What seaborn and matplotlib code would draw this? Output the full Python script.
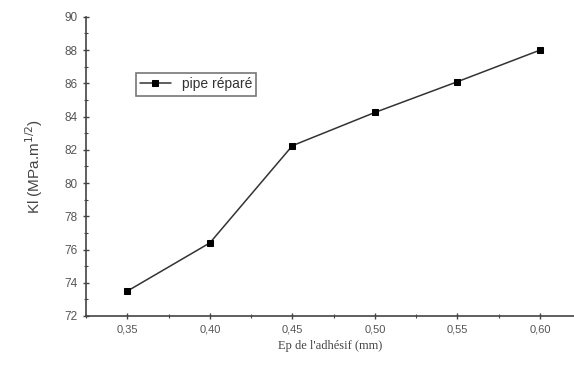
import matplotlib
matplotlib.use("Agg")
import matplotlib.pyplot as plt
import seaborn as sns
import pandas as pd
from matplotlib.ticker import MultipleLocator, FuncFormatter

# épaisseur de l'adhésif (mm) et facteur d'intensité de contrainte KI
ep = [0.35, 0.40, 0.45, 0.50, 0.55, 0.60]
ki = [73.5, 76.4, 82.25, 84.25, 86.1, 88.0]
serie = ["pipe réparé"] * len(ep)

df = pd.DataFrame({"ep": ep, "ki": ki, "serie": serie})

sns.set_style("ticks")
plt.rcParams["font.family"] = ["Liberation Sans", "DejaVu Sans"]

fig = plt.figure(figsize=(5.74, 3.67), dpi=100)
ax = fig.add_axes([0.150, 0.139, 0.850, 0.815])

sns.lineplot(data=df, x="ep", y="ki", hue="serie", palette=["#333333"],
             marker="s", markersize=4, markerfacecolor="black",
             markeredgecolor="black", linewidth=1.1, ax=ax)

ax.set_xlim(0.325, 0.6206)
ax.set_ylim(72, 90)
ax.xaxis.set_major_locator(MultipleLocator(0.05))
ax.xaxis.set_minor_locator(MultipleLocator(0.025))
ax.yaxis.set_major_locator(MultipleLocator(2))
ax.yaxis.set_minor_locator(MultipleLocator(1))
ax.xaxis.set_major_formatter(FuncFormatter(lambda v, p: f"{v:.2f}".replace(".", ",")))
ax.tick_params(which="major", direction="inout", length=5, width=1, labelsize=8,
               colors="#444444", labelcolor="#555555")
ax.tick_params(axis="y", which="major", labelsize=8.5)
ax.tick_params(which="minor", direction="inout", length=3, width=0.8, colors="#444444")

for side in ["top", "right"]:
    ax.spines[side].set_visible(False)
for side in ["left", "bottom"]:
    ax.spines[side].set_color("#444444")
    ax.spines[side].set_linewidth(1.2)

ax.set_xlabel("Ep de l'adhésif (mm)", fontsize=9, color="#444444",
              family=["Liberation Serif", "DejaVu Serif"])
ax.set_ylabel(r"Kl (MPa.m$^{1/2}$)", fontsize=11, color="#444444", labelpad=14)

leg = ax.legend(loc="upper left", bbox_to_anchor=(0.088, 0.835), fontsize=10,
                frameon=True, fancybox=False, handlelength=2.2,
                borderpad=0.3, edgecolor="#555555")
leg.get_frame().set_linewidth(1.2)
for t in leg.get_texts():
    t.set_color("#333333")

fig.savefig("out.png", dpi=100)
